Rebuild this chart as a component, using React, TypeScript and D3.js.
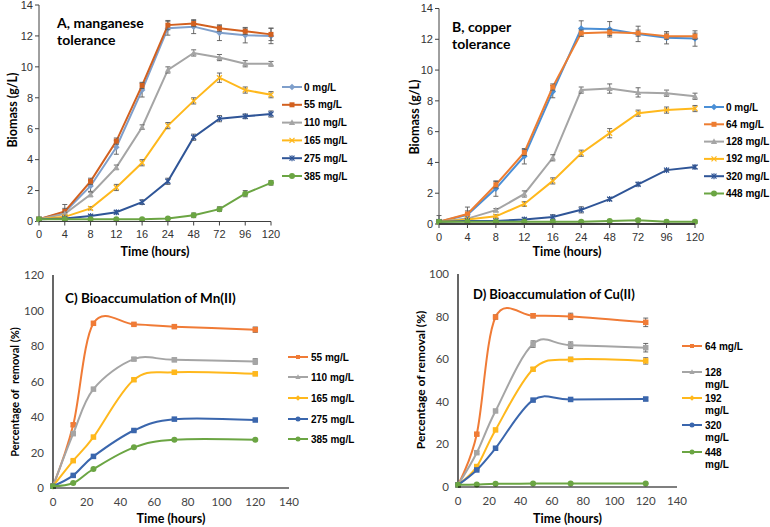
import React from 'react';
import * as d3 from 'd3';

// ---------- Data ----------
const timeCats = ['0', '4', '8', '12', '16', '24', '48', '72', '96', '120'];
const bioTicks = [0, 2, 4, 6, 8, 10, 12, 14];

// A: manganese tolerance (biomass g/L)
const mnLabels = ['0 mg/L', '55 mg/L', '110 mg/L', '165 mg/L', '275 mg/L', '385 mg/L'];
const mn0 = [0.15, 0.6, 2.3, 4.8, 8.5, 12.5, 12.6, 12.2, 12.05, 12.0];
const mn55 = [0.15, 0.65, 2.6, 5.2, 8.8, 12.7, 12.8, 12.5, 12.3, 12.1];
const mn110 = [0.15, 0.5, 1.75, 3.5, 6.1, 9.8, 10.9, 10.6, 10.2, 10.2];
const mn165 = [0.15, 0.3, 0.85, 2.2, 3.8, 6.2, 7.8, 9.3, 8.5, 8.2];
const mn275 = [0.15, 0.2, 0.35, 0.6, 1.25, 2.6, 5.45, 6.65, 6.8, 6.95];
const mn385 = [0.15, 0.15, 0.15, 0.15, 0.15, 0.2, 0.4, 0.8, 1.8, 2.5];
const mn0Err = [0.05, 0.5, 0.35, 0.45, 0.45, 0.45, 0.45, 0.5, 0.5, 0.5];
const mn55Err = [0.05, 0.2, 0.2, 0.2, 0.2, 0.3, 0.2, 0.2, 0.2, 0.4];
const mn110Err = [0.05, 0.1, 0.15, 0.15, 0.15, 0.2, 0.2, 0.2, 0.2, 0.15];
const mn165Err = [0.05, 0.1, 0.1, 0.2, 0.2, 0.2, 0.2, 0.3, 0.2, 0.2];
const mn275Err = [0.05, 0.05, 0.1, 0.1, 0.15, 0.2, 0.2, 0.2, 0.15, 0.2];
const mn385Err = [0.05, 0.05, 0.05, 0.05, 0.05, 0.05, 0.15, 0.15, 0.2, 0.15];

// B: copper tolerance (biomass g/L)
const cuLabels = ['0 mg/L', '64 mg/L', '128 mg/L', '192 mg/L', '320 mg/L', '448 mg/L'];
const cu0 = [0.15, 0.6, 2.3, 4.4, 8.6, 12.7, 12.65, 12.35, 12.1, 12.05];
const cu64 = [0.15, 0.65, 2.55, 4.65, 8.9, 12.4, 12.45, 12.4, 12.2, 12.2];
const cu128 = [0.15, 0.35, 0.9, 1.95, 4.3, 8.7, 8.8, 8.55, 8.5, 8.3];
const cu192 = [0.15, 0.3, 0.5, 1.3, 2.8, 4.6, 5.9, 7.2, 7.4, 7.5];
const cu320 = [0.15, 0.2, 0.2, 0.3, 0.45, 0.92, 1.62, 2.58, 3.5, 3.7];
const cu448 = [0.15, 0.15, 0.15, 0.15, 0.15, 0.15, 0.2, 0.25, 0.15, 0.15];
const cu0Err = [0.4, 0.5, 0.5, 0.5, 0.4, 0.5, 0.5, 0.5, 0.4, 0.5];
const cu64Err = [0.05, 0.2, 0.2, 0.2, 0.2, 0.2, 0.2, 0.2, 0.2, 0.2];
const cu128Err = [0.05, 0.1, 0.1, 0.2, 0.2, 0.2, 0.3, 0.3, 0.2, 0.2];
const cu192Err = [0.05, 0.1, 0.1, 0.15, 0.2, 0.2, 0.3, 0.2, 0.2, 0.2];
const cu320Err = [0.05, 0.05, 0.05, 0.1, 0.15, 0.2, 0.1, 0.1, 0.05, 0.1];
const cu448Err = [0.05, 0.05, 0.05, 0.05, 0.05, 0.05, 0.05, 0.1, 0.1, 0.1];

// C / D: bioaccumulation (% removal)
const accTimes = [0, 12, 24, 48, 72, 120];
const accXTicks = [0, 20, 40, 60, 80, 100, 120, 140];
const mnAccTicks = [0, 20, 40, 60, 80, 100, 120];
const cuAccTicks = [0, 20, 40, 60, 80, 100];

const mnAccLabels = ['55 mg/L', '110 mg/L', '165 mg/L', '275 mg/L', '385 mg/L'];
const mnAcc55 = [1, 35.6, 92.8, 92.2, 90.9, 89.2];
const mnAcc110 = [1, 30.6, 55.7, 72.6, 72.2, 71.3];
const mnAcc165 = [1, 15.4, 28.7, 61, 65.2, 64.3];
const mnAcc275 = [1, 7.1, 17.8, 32.4, 38.8, 38.3];
const mnAcc385 = [1, 2.8, 10.7, 22.9, 27.2, 27.2];
const mnAcc55Err = [0, 0.8, 0.8, 0.8, 1, 1.5];
const mnAcc110Err = [0, 0.5, 0.5, 0.8, 1, 1.5];
const mnAcc165Err = [0, 0.5, 0.5, 0.8, 1, 1];
const mnAcc275Err = [0, 0.3, 0.3, 0.5, 0.5, 0.5];
const mnAcc385Err = [0, 0.3, 0.3, 0.3, 0.3, 0.3];

const cuAccLabels = ['64 mg/L', '128\nmg/L', '192\nmg/L', '320\nmg/L', '448\nmg/L'];
const cuAcc64 = [1, 24.8, 79.8, 80.4, 80.1, 77.3];
const cuAcc128 = [1, 16.1, 35.7, 67.1, 66.6, 65.4];
const cuAcc192 = [1, 9.6, 26.8, 55.3, 59.9, 59.2];
const cuAcc320 = [1, 8, 18.2, 40.8, 41.1, 41.3];
const cuAcc448 = [1, 1.2, 1.5, 1.6, 1.7, 1.6];
const cuAcc64Err = [0, 0.5, 1, 1, 1.5, 2];
const cuAcc128Err = [0, 0.5, 0.5, 1.5, 1.5, 2];
const cuAcc192Err = [0, 0.5, 0.5, 0.8, 1, 1.5];
const cuAcc320Err = [0, 0.3, 0.3, 0.5, 0.5, 0.8];
const cuAcc448Err = [0, 0.2, 0.2, 0.2, 0.2, 0.2];

// ---------- Styling ----------
const ARIAL = '"Liberation Sans", Arial, sans-serif';
const CAL = 'Lato, "Open Sans", sans-serif';
const errColor = '#595959';
const axisColor = '#404040';

type Shape = 'diamond' | 'square' | 'triangle' | 'x' | 'star' | 'circle';

function Marker({ shape, x, y, color, s }: { shape: Shape; x: number; y: number; color: string; s: number }) {
  const h = s / 2;
  switch (shape) {
    case 'diamond':
      return <polygon points={`${x},${y - h - 0.8} ${x + h + 0.8},${y} ${x},${y + h + 0.8} ${x - h - 0.8},${y}`} fill={color} />;
    case 'square':
      return <rect x={x - h} y={y - h} width={s} height={s} fill={color} />;
    case 'triangle':
      return <polygon points={`${x},${y - h - 0.8} ${x + h + 0.6},${y + h} ${x - h - 0.6},${y + h}`} fill={color} />;
    case 'x':
      return (
        <g stroke={color} strokeWidth={1.3}>
          <line x1={x - h} y1={y - h} x2={x + h} y2={y + h} />
          <line x1={x - h} y1={y + h} x2={x + h} y2={y - h} />
        </g>
      );
    case 'star':
      return (
        <g stroke={color} strokeWidth={1.2}>
          <line x1={x - h} y1={y - h} x2={x + h} y2={y + h} />
          <line x1={x - h} y1={y + h} x2={x + h} y2={y - h} />
          <line x1={x} y1={y - h - 0.5} x2={x} y2={y + h + 0.5} />
        </g>
      );
    default:
      return <circle cx={x} cy={y} r={h + 0.5} fill={color} />;
  }
}

type Series = { label: string; values: number[]; err: number[]; color: string; shape: Shape; legendShape?: Shape };

// ---------- Biomass panels (A, B) ----------
function BiomassPanel({
  series, xRange, yRange, title, titleX, titleY, legendX, legendY, legendStep, yTitleX, yTitleY, xTitleY, axisW,
}: {
  series: Series[]; xRange: [number, number]; yRange: [number, number]; title: string[]; titleX: number; titleY: number;
  legendX: number; legendY: number; legendStep: number; yTitleX: number; yTitleY: number; xTitleY: number; axisW: number;
}) {
  const x = d3.scalePoint<string>().domain(timeCats).range(xRange).padding(0);
  const y = d3.scaleLinear().domain([0, 14]).range(yRange);
  const line = d3.line<number>().x((_, i) => x(timeCats[i])!).y((d) => y(d));
  const x0 = xRange[0];
  const y0 = y(0);
  const cx = (xRange[0] + xRange[1]) / 2;
  return (
    <g>
      <line x1={x0} x2={x0} y1={y(14)} y2={y0} stroke={axisColor} strokeWidth={1} />
      {bioTicks.map((t) => (
        <g key={t}>
          <line x1={x0 - 4} x2={x0} y1={y(t)} y2={y(t)} stroke={axisColor} />
          <text x={x0 - 6} y={y(t)} dy="0.35em" textAnchor="end" fontFamily={ARIAL} fontSize={11} fill="#333">
            {t}
          </text>
        </g>
      ))}
      {timeCats.map((c) => (
        <g key={c}>
          <line x1={x(c)} x2={x(c)} y1={y0} y2={y0 + 4} stroke={axisColor} />
          <text x={x(c)} y={y0 + 16.5} textAnchor="middle" fontFamily={ARIAL} fontSize={11} fill="#333">
            {c}
          </text>
        </g>
      ))}
      {series.map((s) => (
        <g key={s.label}>
          <path d={line(s.values)!} fill="none" stroke={s.color} strokeWidth={2} />
          {s.values.map((v, i) => {
            const px = x(timeCats[i])!;
            const e = s.err[i];
            return (
              <g key={i} stroke={errColor} strokeWidth={0.9}>
                <line x1={px} x2={px} y1={y(v + e)} y2={y(Math.max(0, v - e))} />
                <line x1={px - 2.5} x2={px + 2.5} y1={y(v + e)} y2={y(v + e)} />
                <line x1={px - 2.5} x2={px + 2.5} y1={y(Math.max(0, v - e))} y2={y(Math.max(0, v - e))} />
              </g>
            );
          })}
          {s.values.map((v, i) => (
            <Marker key={'m' + i} shape={s.shape} x={x(timeCats[i])!} y={y(v)} color={s.color} s={5} />
          ))}
        </g>
      ))}
      <line x1={x0} x2={xRange[1]} y1={y0} y2={y0} stroke={axisColor} strokeWidth={axisW} />
      {title.map((t, i) => (
        <text key={i} x={titleX} y={titleY + i * 17} fontFamily={CAL} fontWeight="bold" fontSize={14} fill="#000">
          {t}
        </text>
      ))}
      {series.map((s, i) => {
        const ly = legendY + i * legendStep;
        return (
          <g key={'l' + i}>
            <line x1={legendX} x2={legendX + 20} y1={ly} y2={ly} stroke={s.color} strokeWidth={2} />
            <Marker shape={s.shape} x={legendX + 10} y={ly} color={s.color} s={5} />
            <text x={legendX + 22} y={ly} dy="0.35em" fontFamily={ARIAL} fontWeight="bold" fontSize={10} fill="#000">
              {s.label}
            </text>
          </g>
        );
      })}
      <text x={cx} y={xTitleY} textAnchor="middle" fontFamily={CAL} fontWeight="bold" fontSize={12.5} fill="#000">
        Time (hours)
      </text>
      <text transform={`translate(${yTitleX},${yTitleY}) rotate(-90)`} textAnchor="middle" dy="0.35em" fontFamily={CAL} fontWeight="bold" fontSize={12.5} fill="#000">
        Biomass (g/L)
      </text>
    </g>
  );
}

// ---------- Accumulation panels (C, D) ----------
function AccPanel({
  series, xRange, yMax, yTicks, yRange, title, titleX, titleY, titleSize, legendX, legendYs, yTitle, yTitleX, yTitleY, yTitleSize, xTitleY,
}: {
  series: Series[]; xRange: [number, number]; yMax: number; yTicks: number[]; yRange: [number, number]; title: string; titleX: number; titleY: number; titleSize: number;
  legendX: number; legendYs: number[]; yTitle: string; yTitleX: number; yTitleY: number; yTitleSize: number; xTitleY: number;
}) {
  const x = d3.scaleLinear().domain([0, 140]).range(xRange);
  const y = d3.scaleLinear().domain([0, yMax]).range(yRange);
  const line = d3.line<number>().x((_, i) => x(accTimes[i])).y((d) => y(d)).curve(d3.curveCardinal.tension(0));
  const x0 = xRange[0];
  const y0 = y(0);
  const cx = (xRange[0] + xRange[1]) / 2;
  return (
    <g>
      <line x1={x0} x2={x0} y1={y(yMax)} y2={y0} stroke="#000" strokeWidth={1.2} />
      {yTicks.map((t) => (
        <text key={t} x={x0 - 9} y={y(t)} dy="0.35em" textAnchor="end" fontFamily={CAL} fontSize={11.5} fill="#444">
          {t}
        </text>
      ))}
      {accXTicks.map((t) => (
        <text key={t} x={x(t)} y={y0 + 18} textAnchor="middle" fontFamily={CAL} fontSize={11.5} fill="#444">
          {t}
        </text>
      ))}
      {series.map((s) => (
        <g key={s.label}>
          <path d={line(s.values)!} fill="none" stroke={s.color} strokeWidth={2} />
          {s.values.map((v, i) => {
            const e = s.err[i];
            if (!e) return null;
            const px = x(accTimes[i]);
            return (
              <g key={i} stroke={errColor} strokeWidth={0.9}>
                <line x1={px} x2={px} y1={y(v + e)} y2={y(v - e)} />
                <line x1={px - 2.5} x2={px + 2.5} y1={y(v + e)} y2={y(v + e)} />
                <line x1={px - 2.5} x2={px + 2.5} y1={y(v - e)} y2={y(v - e)} />
              </g>
            );
          })}
          {s.values.map((v, i) => (
            <Marker key={'m' + i} shape={s.shape} x={x(accTimes[i])} y={y(v)} color={s.color} s={s.shape === 'circle' ? 5 : 5.5} />
          ))}
        </g>
      ))}
      <line x1={x0} x2={xRange[1]} y1={y0} y2={y0} stroke="#000" strokeWidth={1.2} />
      <text x={titleX} y={titleY} fontFamily={CAL} fontWeight="bold" fontSize={titleSize} fill="#000">
        {title}
      </text>
      {series.map((s, i) => {
        const ly = legendYs[i];
        const parts = s.label.split('\n');
        return (
          <g key={'l' + i}>
            <line x1={legendX} x2={legendX + 20} y1={ly} y2={ly} stroke={s.color} strokeWidth={2} />
            <Marker shape={s.legendShape || s.shape} x={legendX + 10} y={ly} color={s.color} s={4} />
            {parts.map((p, j) => (
              <text key={j} x={legendX + 23} y={ly + j * 12.5} dy="0.35em" fontFamily={ARIAL} fontWeight="bold" fontSize={10} fill="#000">
                {p}
              </text>
            ))}
          </g>
        );
      })}
      <text x={cx} y={xTitleY} textAnchor="middle" fontFamily={CAL} fontWeight="bold" fontSize={12.5} fill="#000">
        Time (hours)
      </text>
      <text transform={`translate(${yTitleX},${yTitleY}) rotate(-90)`} textAnchor="middle" dy="0.35em" fontFamily={CAL} fontWeight="bold" fontSize={yTitleSize} fill="#000" style={{ whiteSpace: 'pre' }}>
        {yTitle}
      </text>
    </g>
  );
}

const mnSeries: Series[] = [
  { label: mnLabels[0], values: mn0, err: mn0Err, color: '#7F9FCB', shape: 'diamond' },
  { label: mnLabels[1], values: mn55, err: mn55Err, color: '#D2601F', shape: 'square' },
  { label: mnLabels[2], values: mn110, err: mn110Err, color: '#A5A5A5', shape: 'triangle' },
  { label: mnLabels[3], values: mn165, err: mn165Err, color: '#FFB81C', shape: 'x' },
  { label: mnLabels[4], values: mn275, err: mn275Err, color: '#2F5597', shape: 'star' },
  { label: mnLabels[5], values: mn385, err: mn385Err, color: '#6BA543', shape: 'circle' },
];

const cuSeries: Series[] = [
  { label: cuLabels[0], values: cu0, err: cu0Err, color: '#4A8FD6', shape: 'diamond' },
  { label: cuLabels[1], values: cu64, err: cu64Err, color: '#ED7D31', shape: 'square' },
  { label: cuLabels[2], values: cu128, err: cu128Err, color: '#A5A5A5', shape: 'triangle' },
  { label: cuLabels[3], values: cu192, err: cu192Err, color: '#FFB81C', shape: 'x' },
  { label: cuLabels[4], values: cu320, err: cu320Err, color: '#2F5597', shape: 'star' },
  { label: cuLabels[5], values: cu448, err: cu448Err, color: '#6BA543', shape: 'circle' },
];

const mnAccSeries: Series[] = [
  { label: mnAccLabels[0], values: mnAcc55, err: mnAcc55Err, color: '#F07B36', shape: 'square', legendShape: 'square' },
  { label: mnAccLabels[1], values: mnAcc110, err: mnAcc110Err, color: '#A5A5A5', shape: 'square', legendShape: 'triangle' },
  { label: mnAccLabels[2], values: mnAcc165, err: mnAcc165Err, color: '#FFB81C', shape: 'square', legendShape: 'diamond' },
  { label: mnAccLabels[3], values: mnAcc275, err: mnAcc275Err, color: '#3A66AD', shape: 'square', legendShape: 'circle' },
  { label: mnAccLabels[4], values: mnAcc385, err: mnAcc385Err, color: '#6BA543', shape: 'circle', legendShape: 'circle' },
];

const cuAccSeries: Series[] = [
  { label: cuAccLabels[0], values: cuAcc64, err: cuAcc64Err, color: '#F07B36', shape: 'square', legendShape: 'square' },
  { label: cuAccLabels[1], values: cuAcc128, err: cuAcc128Err, color: '#A5A5A5', shape: 'square', legendShape: 'triangle' },
  { label: cuAccLabels[2], values: cuAcc192, err: cuAcc192Err, color: '#FFB81C', shape: 'square', legendShape: 'diamond' },
  { label: cuAccLabels[3], values: cuAcc320, err: cuAcc320Err, color: '#3A66AD', shape: 'square', legendShape: 'circle' },
  { label: cuAccLabels[4], values: cuAcc448, err: cuAcc448Err, color: '#6BA543', shape: 'circle', legendShape: 'circle' },
];

export default function App() {
  return (
    <svg width={770} height={527} style={{ position: 'absolute', left: 0, top: 0, background: '#fff' }}>
      <rect width={770} height={527} fill="#fff" />
      <BiomassPanel
        series={mnSeries} xRange={[39, 271]} yRange={[221.5, 5]} title={['A, manganese', 'tolerance']} titleX={57} titleY={28}
        legendX={282} legendY={87} legendStep={17.8} yTitleX={13} yTitleY={110} xTitleY={256} axisW={1}
      />
      <BiomassPanel
        series={cuSeries} xRange={[439, 695]} yRange={[224, 8.5]} title={['B, copper', 'tolerance']} titleX={452} titleY={32}
        legendX={704} legendY={107} legendStep={17.3} yTitleX={415} yTitleY={117} xTitleY={256} axisW={2}
      />
      <AccPanel
        series={mnAccSeries} xRange={[53, 289]} yMax={120} yTicks={mnAccTicks} yRange={[488, 275]}
        title="C) Bioaccumulation of Mn(II)" titleX={65} titleY={303} titleSize={13.5} legendX={288} legendYs={[357, 377, 398, 419, 439]}
        yTitle="Percentage of  removal (%)" yTitleX={15} yTitleY={392} yTitleSize={11} xTitleY={523}
      />
      <AccPanel
        series={cuAccSeries} xRange={[458, 677]} yMax={100} yTicks={cuAccTicks} yRange={[487, 274]}
        title="D) Bioaccumulation of Cu(II)" titleX={473} titleY={299} titleSize={13} legendX={682} legendYs={[346, 372, 398, 425, 452]}
        yTitle="Percentage of removal (%)" yTitleX={421} yTitleY={380} yTitleSize={12} xTitleY={523}
      />
    </svg>
  );
}
